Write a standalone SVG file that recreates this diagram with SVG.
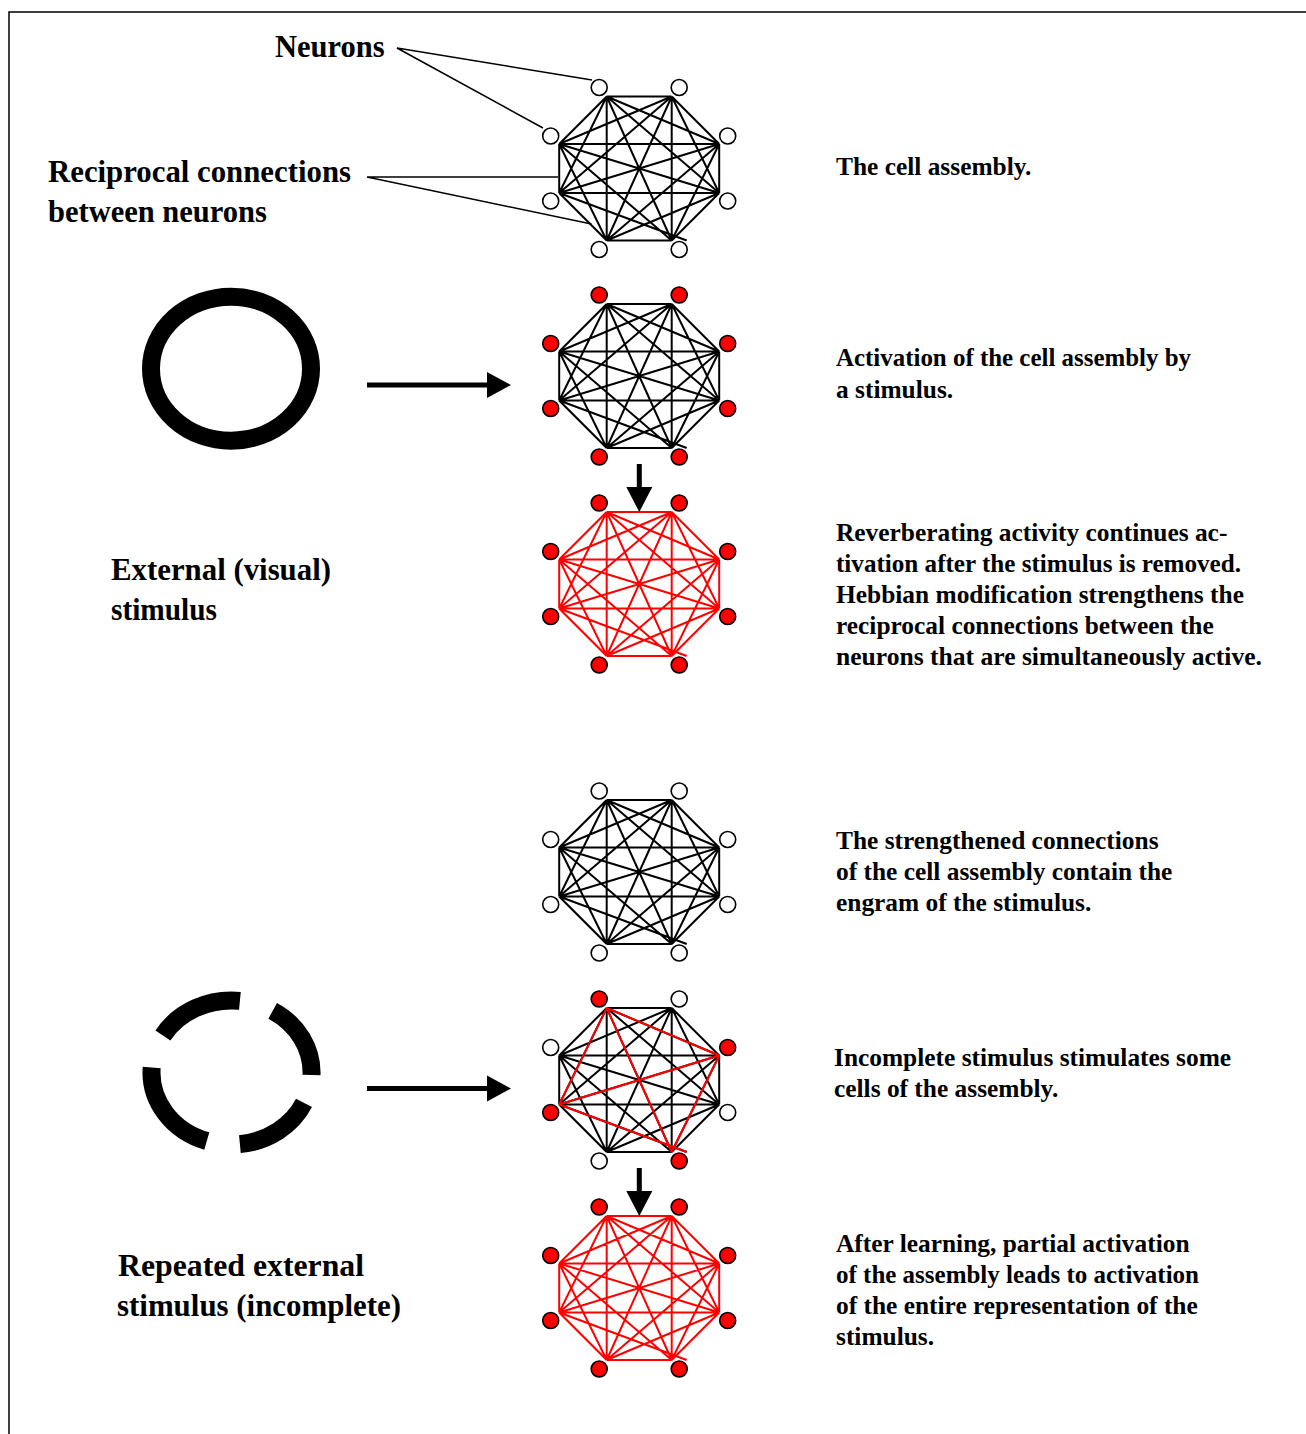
<svg xmlns="http://www.w3.org/2000/svg" xmlns:xlink="http://www.w3.org/1999/xlink" width="1306" height="1434" viewBox="0 0 1306 1434">
<style>
.t{font-family:"Liberation Serif","Times New Roman",serif;font-weight:bold;fill:#000}
.big{font-size:30.5px}
.sm{font-size:25.4px}
.blk{stroke:#000;stroke-width:2;fill:none}
.red{stroke:#f00;stroke-width:2;fill:none}
.nw{fill:#fff;stroke:#000;stroke-width:1.6}
.nr{fill:#f00;stroke:#000;stroke-width:1.6}
.lead{stroke:#000;stroke-width:1.5;fill:none}
.shaft{stroke:#000;stroke-width:5;fill:none}
.ring{stroke:#000;stroke-width:18;fill:none}
</style>
<defs>
<path id="edges" d="M-32.5,-72 L32.5,-72 M-32.5,-72 L80,-24.5 M-32.5,-72 L80,24.5 M-32.5,-72 L32.5,72 M-32.5,-72 L-32.5,72 M-32.5,-72 L-80,24.5 M-32.5,-72 L-80,-24.5 M32.5,-72 L80,-24.5 M32.5,-72 L80,24.5 M32.5,-72 L32.5,72 M32.5,-72 L-32.5,72 M32.5,-72 L-80,24.5 M32.5,-72 L-80,-24.5 M80,-24.5 L80,24.5 M80,-24.5 L32.5,72 M80,-24.5 L-32.5,72 M80,-24.5 L-80,24.5 M80,-24.5 L-80,-24.5 M80,24.5 L32.5,72 M80,24.5 L-32.5,72 M80,24.5 L-80,24.5 M80,24.5 L-80,-24.5 M32.5,72 L-32.5,72 M-80,24.5 L47.5,72 M32.5,72 L-80,-24.5 M-32.5,72 L-80,24.5 M-32.5,72 L-80,-24.5 M-80,24.5 L-80,-24.5"/>
<path id="partial" d="M-32.5,-72 L80,-24.5 M-32.5,-72 L-80,24.5 M-32.5,-72 L32.5,72 M80,-24.5 L-80,24.5 M80,-24.5 L32.5,72 M-80,24.5 L47.5,72"/>
<circle id="n0" cx="-40" cy="-81" r="8"/>
<circle id="n1" cx="40" cy="-81" r="8"/>
<circle id="n2" cx="88.5" cy="-32.5" r="8"/>
<circle id="n3" cx="88.5" cy="32.5" r="8"/>
<circle id="n4" cx="40" cy="81" r="8"/>
<circle id="n5" cx="-40" cy="81" r="8"/>
<circle id="n6" cx="-88.5" cy="32.5" r="8"/>
<circle id="n7" cx="-88.5" cy="-32.5" r="8"/>
</defs>

<rect x="9" y="12" width="1400" height="1500" fill="none" stroke="#000" stroke-width="1.5"/>

<g id="assembly-1" transform="translate(639.2,168.5)">
<use href="#edges" class="blk"/>
<use href="#n0" class="nw"/><use href="#n1" class="nw"/><use href="#n2" class="nw"/><use href="#n3" class="nw"/>
<use href="#n4" class="nw"/><use href="#n5" class="nw"/><use href="#n6" class="nw"/><use href="#n7" class="nw"/>
</g>
<g id="assembly-2" transform="translate(639.2,376)">
<use href="#edges" class="blk"/>
<use href="#n0" class="nr"/><use href="#n1" class="nr"/><use href="#n2" class="nr"/><use href="#n3" class="nr"/>
<use href="#n4" class="nr"/><use href="#n5" class="nr"/><use href="#n6" class="nr"/><use href="#n7" class="nr"/>
</g>
<g id="assembly-3" transform="translate(639.2,584)">
<use href="#edges" class="red"/>
<use href="#n0" class="nr"/><use href="#n1" class="nr"/><use href="#n2" class="nr"/><use href="#n3" class="nr"/>
<use href="#n4" class="nr"/><use href="#n5" class="nr"/><use href="#n6" class="nr"/><use href="#n7" class="nr"/>
</g>
<g id="assembly-4" transform="translate(639.2,872)">
<use href="#edges" class="blk"/>
<use href="#n0" class="nw"/><use href="#n1" class="nw"/><use href="#n2" class="nw"/><use href="#n3" class="nw"/>
<use href="#n4" class="nw"/><use href="#n5" class="nw"/><use href="#n6" class="nw"/><use href="#n7" class="nw"/>
</g>
<g id="assembly-5" transform="translate(639.2,1080)">
<use href="#edges" class="blk"/>
<use href="#partial" class="red"/>
<use href="#n0" class="nr"/><use href="#n1" class="nw"/><use href="#n2" class="nr"/><use href="#n3" class="nw"/>
<use href="#n4" class="nr"/><use href="#n5" class="nw"/><use href="#n6" class="nr"/><use href="#n7" class="nw"/>
</g>
<g id="assembly-6" transform="translate(639.2,1288)">
<use href="#edges" class="red"/>
<use href="#n0" class="nr"/><use href="#n1" class="nr"/><use href="#n2" class="nr"/><use href="#n3" class="nr"/>
<use href="#n4" class="nr"/><use href="#n5" class="nr"/><use href="#n6" class="nr"/><use href="#n7" class="nr"/>
</g>

<g id="stimulus-full">
<ellipse class="ring" cx="231" cy="368.7" rx="80" ry="72"/>
</g>
<g id="stimulus-incomplete">
<path class="ring" d="M162.9,1035.4 A80,72 0 0 1 239.9,1000.9 M272.7,1010.8 A80,72 0 0 1 311.5,1075 M304,1102.9 A80,72 0 0 1 239.9,1144.1 M206.8,1141 A80,72 0 0 1 151.7,1067.5"/>
</g>

<g id="connectors">
<path class="lead" d="M397,48 L592,80 M397,48 L543,128"/>
<path class="lead" d="M367,177 L558,177 M367,177 L591.5,224"/>
<line class="shaft" x1="367" y1="385" x2="489" y2="385"/>
<polygon points="487,372 511,385 487,398" fill="#000"/>
<line class="shaft" x1="367" y1="1088.5" x2="489" y2="1088.5"/>
<polygon points="487,1075.5 511,1088.5 487,1101.5" fill="#000"/>
<line class="shaft" x1="639.3" y1="464" x2="639.3" y2="489"/>
<polygon points="626.3,487 652.3,487 639.3,512" fill="#000"/>
<line class="shaft" x1="639.3" y1="1168" x2="639.3" y2="1193"/>
<polygon points="626.3,1191 652.3,1191 639.3,1216" fill="#000"/>
</g>

<g id="labels">
<text class="t big" x="275" y="57">Neurons</text>
<text class="t big" x="48" y="182" textLength="303" lengthAdjust="spacingAndGlyphs">Reciprocal connections</text>
<text class="t big" x="48" y="222">between neurons</text>
<text class="t big" x="111" y="580" textLength="220" lengthAdjust="spacingAndGlyphs">External (visual)</text>
<text class="t big" x="111" y="620" textLength="106" lengthAdjust="spacingAndGlyphs">stimulus</text>
<text class="t big" x="118" y="1276" textLength="246" lengthAdjust="spacingAndGlyphs">Repeated external</text>
<text class="t big" x="117" y="1316" textLength="284" lengthAdjust="spacingAndGlyphs">stimulus (incomplete)</text>

<text class="t sm" x="836" y="175">The cell assembly.</text>
<text class="t sm" x="836" y="366" textLength="355" lengthAdjust="spacingAndGlyphs">Activation of the cell assembly by</text>
<text class="t sm" x="836" y="398">a stimulus.</text>
<text class="t sm" x="836" y="541">Reverberating activity continues ac-</text>
<text class="t sm" x="836" y="572" textLength="405" lengthAdjust="spacingAndGlyphs">tivation after the stimulus is removed.</text>
<text class="t sm" x="836" y="603">Hebbian modification strengthens the</text>
<text class="t sm" x="836" y="634">reciprocal connections between the</text>
<text class="t sm" x="836" y="665" textLength="426" lengthAdjust="spacingAndGlyphs">neurons that are simultaneously active.</text>
<text class="t sm" x="836" y="849">The strengthened connections</text>
<text class="t sm" x="836" y="880">of the cell assembly contain the</text>
<text class="t sm" x="836" y="911">engram of the stimulus.</text>
<text class="t sm" x="834" y="1066">Incomplete stimulus stimulates some</text>
<text class="t sm" x="834" y="1097">cells of the assembly.</text>
<text class="t sm" x="836" y="1252">After learning, partial activation</text>
<text class="t sm" x="836" y="1283" textLength="363" lengthAdjust="spacingAndGlyphs">of the assembly leads to activation</text>
<text class="t sm" x="836" y="1314">of the entire representation of the</text>
<text class="t sm" x="836" y="1345">stimulus.</text>
</g>
</svg>
